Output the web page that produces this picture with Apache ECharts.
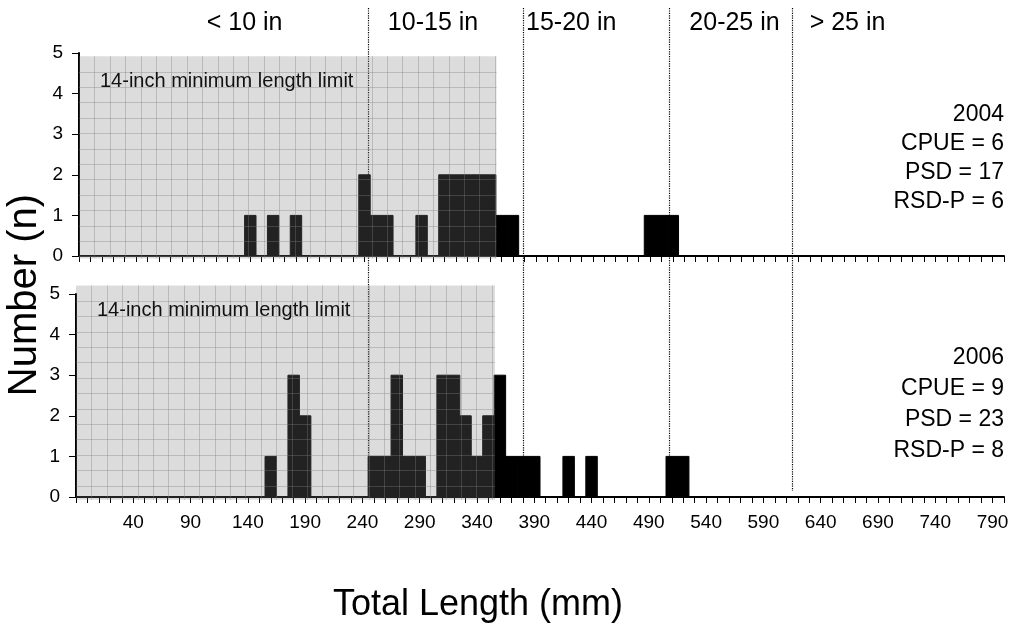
<!DOCTYPE html>
<html>
<head>
<meta charset="utf-8">
<script src="https://cdn.jsdelivr.net/npm/echarts@6/dist/echarts.min.js"></script>
<style>
html,body{margin:0;padding:0;background:#fff}
#chart{width:1013px;height:623px}
</style>
</head>
<body>
<div id="chart"></div>
<script>
// 10 mm length bins (mm) and number of fish in each
var len2004 = [140,160,180,240,250,260,290,310,320,330,340,350,360,370,490,500,510];
var cnt2004 = [1,1,1,2,1,1,1,2,2,2,2,2,1,1,1,1,1];
var len2006 = [160,180,190,250,260,270,280,290,310,320,330,340,350,360,370,380,390,420,440,510,520];
var cnt2006 = [1,3,2,1,1,3,1,1,3,3,2,1,2,3,1,1,1,1,1,1,1];

var stats2004 = ['2004','CPUE = 6','PSD = 17','RSD-P = 6'];
var stats2006 = ['2006','CPUE = 9','PSD = 23','RSD-P = 8'];

var zoneNames = ['< 10 in','10-15 in','15-20 in','20-25 in','> 25 in'];
var zoneLabelAt = [135,300,421,564,663];   // mm, centre of each zone name
var zoneBreaks = [245,380,508,615];        // mm, dotted dividers
var limitMM = 355.6;                       // 14 inch
var limitText = '14-inch minimum length limit';

var FONT = '"Liberation Sans", Arial, sans-serif';

function pairs(xs, ys){
	var out = [];
	for (var i = 0; i < xs.length; i++) out.push([xs[i], ys[i]]);
	return out;
}

function barItem(params, api){
	var x = api.value(0), n = api.value(1);
	var p0 = api.coord([x - 5, n]);
	var p1 = api.coord([x + 5, 0]);
	return {
		type: 'rect',
		shape: {x: p0[0], y: p0[1], width: p1[0] - p0[0], height: p1[1] - p0[1]},
		style: {fill: '#000', stroke: '#000', lineWidth: 1}
	};
}

// grey "graph paper" box laid over the sub-legal lengths
function shadeItem(params, api){
	var a = api.coord([api.value(0), api.value(2)]);
	var b = api.coord([api.value(1), api.value(3)]);
	var kids = [{
		type: 'rect',
		shape: {x: a[0], y: a[1], width: b[0] - a[0], height: b[1] - a[1]},
		style: {fill: 'rgba(127,127,127,0.27)'}
	}];
	var step = 15.4, k;
	for (k = a[0] + step; k < b[0] - 1; k += step) {
		var xx = Math.round(k) + 0.5;
		kids.push({type: 'line', shape: {x1: xx, y1: a[1], x2: xx, y2: b[1]},
			style: {stroke: 'rgba(127,127,127,0.36)', lineWidth: 1}});
	}
	for (k = a[1] + step; k < b[1] - 1; k += step) {
		var yy = Math.round(k) + 0.5;
		kids.push({type: 'line', shape: {x1: a[0], y1: yy, x2: b[0], y2: yy},
			style: {stroke: 'rgba(127,127,127,0.36)', lineWidth: 1}});
	}
	kids.push({type: 'text', x: a[0] + 21, y: a[1] + 25,
		style: {text: limitText, fill: '#111', font: '20px ' + FONT, align: 'left', verticalAlign: 'middle'}});
	return {type: 'group', children: kids};
}

function breakItem(params, api){
	var p = api.coord([api.value(0), 0.15]);
	var x = Math.round(p[0]) + 0.5;
	return {
		type: 'line',
		shape: {x1: x, y1: params.coordSys.y - 286, x2: x, y2: p[1]},
		style: {stroke: '#000', lineWidth: 1.2, lineDash: [1.2, 1.2]}
	};
}

function zoneItem(params, api){
	var p = api.coord([api.value(0), 5]);
	return {
		type: 'text', x: p[0], y: params.coordSys.y - 30,
		style: {text: zoneNames[params.dataIndex], fill: '#000', font: '25px ' + FONT,
			align: 'center', verticalAlign: 'middle'}
	};
}

function statsRender(lines, first, gap){
	return function(params, api){
		var cs = params.coordSys, kids = [];
		for (var i = 0; i < lines.length; i++) {
			kids.push({type: 'text', x: cs.x + cs.width, y: cs.y + first + i * gap,
				style: {text: lines[i], fill: '#000', font: '23px ' + FONT, align: 'right', verticalAlign: 'middle'}});
		}
		return {type: 'group', children: kids};
	};
}

function xAxisCfg(grid, showLabels){
	return {
		type: 'value', gridIndex: grid, min: -10, max: 800, interval: 10,
		axisLine: {onZero: false, lineStyle: {color: '#000', width: 2}},
		axisTick: {show: true, length: 6, lineStyle: {color: '#000', width: 1}},
		axisLabel: {
			show: showLabels, margin: 16, color: '#000', fontSize: 19, fontFamily: FONT,
			formatter: function(v){ return (v >= 40 && (v - 40) % 50 === 0) ? String(v) : ''; }
		},
		splitLine: {show: false}
	};
}

function yAxisCfg(grid){
	return {
		type: 'value', gridIndex: grid, min: 0, max: 5, interval: 1,
		axisLine: {show: true, onZero: false, lineStyle: {color: '#000', width: 2}},
		axisTick: {show: true, length: 7, lineStyle: {color: '#000', width: 1}},
		axisLabel: {margin: 16, color: '#000', fontSize: 19, fontFamily: FONT},
		splitLine: {show: false}
	};
}

var myChart = echarts.init(document.getElementById('chart'), null, {renderer: 'canvas'});
myChart.setOption({
	animation: false,
	backgroundColor: '#fff',
	grid: [
		{left: 79, right: 9, top: 53, height: 203},
		{left: 76, right: 9, top: 294, height: 203}
	],
	xAxis: [xAxisCfg(0, false), xAxisCfg(1, true)],
	yAxis: [yAxisCfg(0), yAxisCfg(1)],
	graphic: [
		{type: 'text', x: 25, y: 295, rotation: Math.PI / 2,
			style: {text: 'Number (n)', fill: '#000', font: '40px ' + FONT, align: 'center', verticalAlign: 'middle'}},
		{type: 'text', x: 478, y: 605,
			style: {text: 'Total Length (mm)', fill: '#000', font: '36px ' + FONT, align: 'center', verticalAlign: 'middle'}}
	],
	series: [
		{type: 'custom', name: 'breaks', xAxisIndex: 1, yAxisIndex: 1, z: 1, clip: false,
			renderItem: breakItem, data: zoneBreaks.map(function(v){ return [v, 0]; })},
		{type: 'custom', name: 'zones', xAxisIndex: 0, yAxisIndex: 0, z: 1, clip: false,
			renderItem: zoneItem, data: zoneLabelAt.map(function(v){ return [v, 5]; })},
		{type: 'custom', name: '2004', xAxisIndex: 0, yAxisIndex: 0, z: 2,
			renderItem: barItem, encode: {x: 0, y: 1}, data: pairs(len2004, cnt2004)},
		{type: 'custom', name: '2006', xAxisIndex: 1, yAxisIndex: 1, z: 2,
			renderItem: barItem, encode: {x: 0, y: 1}, data: pairs(len2006, cnt2006)},
		{type: 'custom', name: 'shade2004', xAxisIndex: 0, yAxisIndex: 0, z: 3, clip: false,
			renderItem: shadeItem, data: [[-10, limitMM, 4.92, -0.06]]},
		{type: 'custom', name: 'shade2006', xAxisIndex: 1, yAxisIndex: 1, z: 3, clip: false,
			renderItem: shadeItem, data: [[-10, limitMM, 5.21, -0.07]]},
		{type: 'custom', name: 'stats2004', xAxisIndex: 0, yAxisIndex: 0, z: 4, clip: false,
			renderItem: statsRender(stats2004, 62, 29), data: [[0, 0]]},
		{type: 'custom', name: 'stats2006', xAxisIndex: 1, yAxisIndex: 1, z: 4, clip: false,
			renderItem: statsRender(stats2006, 64, 31), data: [[0, 0]]}
	]
});
</script>
</body>
</html>
